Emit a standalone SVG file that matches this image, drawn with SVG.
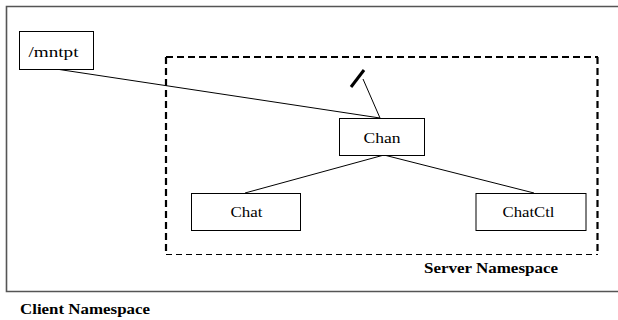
<svg xmlns="http://www.w3.org/2000/svg" width="618" height="320" viewBox="0 0 618 320">
<style>
.box{fill:#fff;stroke:#000;stroke-width:1}
.t{font-family:'Liberation Serif','DejaVu Serif',serif;font-size:14px;fill:#000}
.b{font-family:'Liberation Serif','DejaVu Serif',serif;font-size:15px;font-weight:bold;fill:#000}
.c{stroke:#000;stroke-width:1;fill:none}
</style>
<rect width="618" height="320" fill="#fff"/>
<g id="client-frame">
<path d="M620,6.5 H6.5 V291.5 H620" fill="none" stroke="#555" stroke-width="1.6"/>
</g>
<g id="server-frame">
<path d="M166,57 H598" stroke="#000" stroke-width="2" stroke-dasharray="7,4" fill="none"/>
<path d="M166,57 V254" stroke="#000" stroke-width="2.2" stroke-dasharray="7,4" fill="none"/>
<path d="M597.5,57 V254" stroke="#000" stroke-width="2.2" stroke-dasharray="7,4" fill="none"/>
<path d="M166,254.5 H598" stroke="#000" stroke-width="1.2" stroke-dasharray="6,4" fill="none"/>
</g>
<g id="connectors">
<line class="c" x1="56" y1="69" x2="380" y2="118"/>
<line x1="351" y1="87" x2="364" y2="70" stroke="#000" stroke-width="3"/>
<line class="c" x1="363" y1="79" x2="380" y2="118"/>
<line class="c" x1="384" y1="155" x2="245" y2="193"/>
<line class="c" x1="384" y1="155" x2="534" y2="193"/>
</g>
<g id="mntpt">
<rect class="box" x="19.5" y="31.5" width="74" height="38"/>
<text class="t" x="28.5" y="56.5" textLength="50" lengthAdjust="spacingAndGlyphs">/mntpt</text>
</g>
<g id="chan">
<rect class="box" x="339.5" y="118.5" width="85" height="37"/>
<text class="t" x="363.5" y="143" textLength="37" lengthAdjust="spacingAndGlyphs">Chan</text>
</g>
<g id="chat">
<rect class="box" x="191.5" y="193.5" width="109" height="37"/>
<text class="t" x="230.5" y="217" textLength="32" lengthAdjust="spacingAndGlyphs">Chat</text>
</g>
<g id="chatctl">
<rect class="box" x="476" y="193.5" width="110" height="37"/>
<text class="t" x="502.5" y="217" textLength="52" lengthAdjust="spacingAndGlyphs">ChatCtl</text>
</g>
<text class="b" x="424" y="273" textLength="134" lengthAdjust="spacingAndGlyphs">Server Namespace</text>
<text class="b" x="20" y="314" textLength="130" lengthAdjust="spacingAndGlyphs">Client Namespace</text>
</svg>
